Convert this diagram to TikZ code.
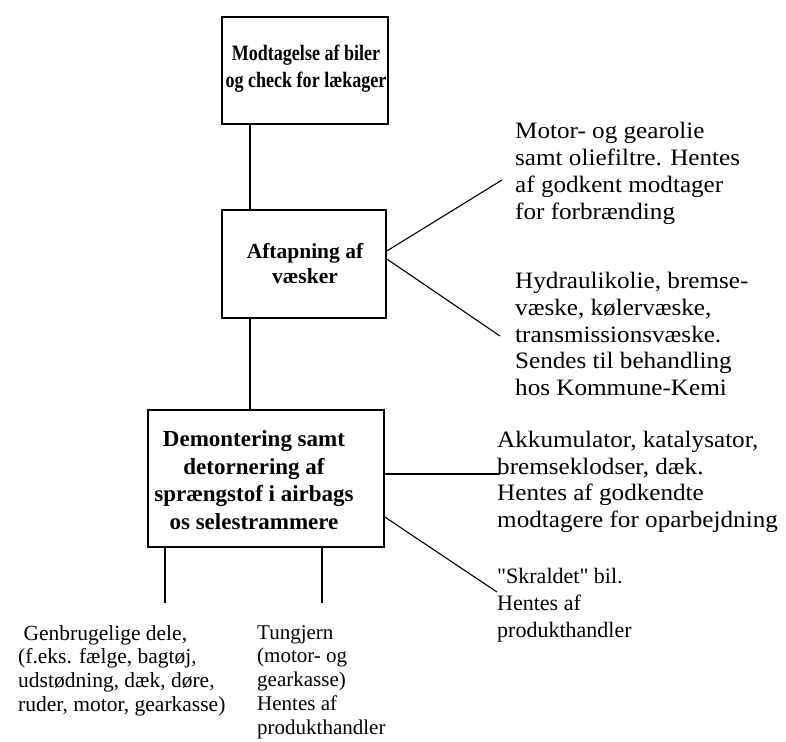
\documentclass[tikz,border=0pt]{standalone}
\usepackage{fontspec}
\setmainfont{Liberation Serif}
\newfontfamily\condserif{Liberation Serif}[FakeStretch=0.82]
\newfontfamily\wideserif{Liberation Serif}[FakeStretch=1.07]
\begin{document}
\begin{tikzpicture}[x=1pt,y=-1pt,
  box/.style={draw,line width=1.6pt,inner sep=0pt},
  boxtext/.style={inner sep=0pt,align=center},
  note/.style={anchor=north west,inner sep=0pt,align=left},
  conn/.style={line width=1.1pt}]
\useasboundingbox (0,0) rectangle (786,741);
% boxes
\node[box,minimum width=166pt,minimum height=107pt] (b1) at (305,70.5) {};
\node[box,minimum width=164pt,minimum height=108pt] (b2) at (304,264) {};
\node[box,minimum width=236pt,minimum height=137pt] (b3) at (266,478.5) {};
\node[boxtext,font=\condserif\fontsize{22}{27}\selectfont\bfseries] (b1t) at (306,69) {Modtagelse af biler\\og check for lækager};
\node[boxtext,font=\fontsize{21.5}{25}\selectfont\bfseries] (b2t) at (305,264) {Aftapning af\\væsker};
\node[boxtext,font=\fontsize{23}{27.7}\selectfont\bfseries] (b3t) at (254,480) {Demontering samt\\detornering af\\sprængstof i airbags\\os selestrammere};
% notes
\node[note,font=\wideserif\fontsize{23.5}{27}\selectfont] (t1) at (515,122) {Motor- og gearolie\\samt oliefiltre. Hentes\\af godkent modtager\\for forbrænding};
\node[note,font=\wideserif\fontsize{23.5}{26.8}\selectfont] (t2) at (515,272) {Hydraulikolie, bremse-\\væske, kølervæske,\\transmissionsvæske.\\Sendes til behandling\\hos Kommune-Kemi};
\node[note,font=\wideserif\fontsize{23.5}{26.7}\selectfont] (t3) at (497,431) {Akkumulator, katalysator,\\bremseklodser, dæk.\\Hentes af godkendte\\modtagere for oparbejdning};
\node[note,font=\fontsize{22}{27}\selectfont] (t4) at (497,568) {\textquotedbl Skraldet\textquotedbl{} bil.\\Hentes af\\produkthandler};
\node[note,font=\fontsize{21.5}{23.8}\selectfont] (t5) at (18,625) {\ Genbrugelige dele,\\(f.eks. fælge, bagtøj,\\udstødning, dæk, døre,\\ruder, motor, gearkasse)};
\node[note,font=\fontsize{21}{23.8}\selectfont] (t6) at (257,625) {Tungjern\\(motor- og\\gearkasse)\\Hentes af\\produkthandler};
% connector ends
\coordinate (e1) at (502,180);
\coordinate (e2) at (500,336);
\coordinate (e3) at (500,474);
\coordinate (e4) at (497,592);
\coordinate (e5) at (165,603);
\coordinate (e6) at (322,603);
\draw[conn] (b1.south -| 250,0) -- (b2.north -| 250,0);
\draw[conn] (b2.south -| 250,0) -- (b3.north -| 250,0);
\draw[conn] (b2.east |- 0,251) -- (e1);
\draw[conn] (b2.east |- 0,259) -- (e2);
\draw[conn] (b3.east |- 0,474) -- (e3);
\draw[conn] (b3.east |- 0,517) -- (e4);
\draw[conn] (b3.south -| e5) -- (e5);
\draw[conn] (b3.south -| e6) -- (e6);
\end{tikzpicture}
\end{document}
